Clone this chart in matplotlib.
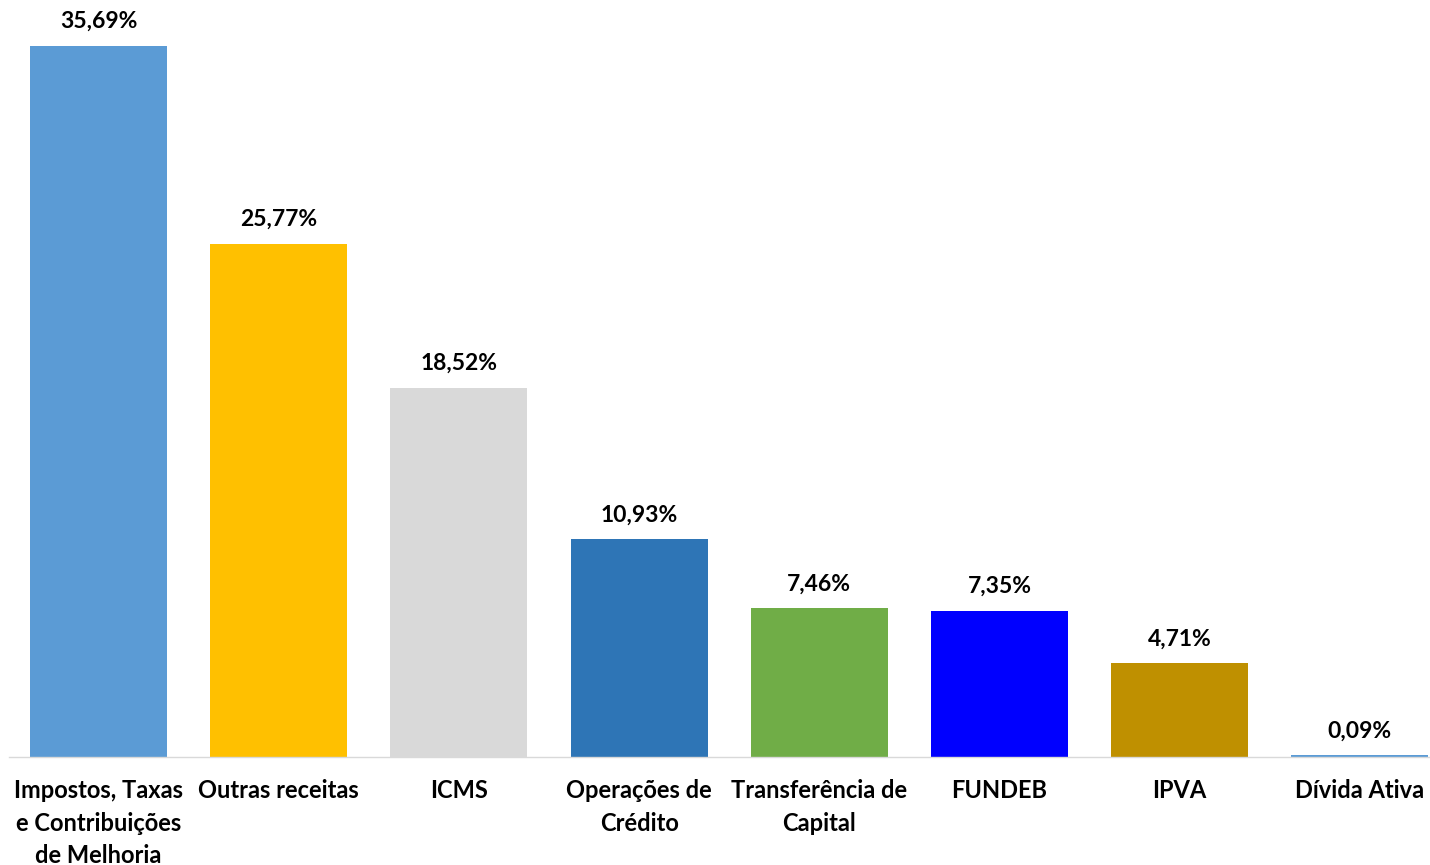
import matplotlib
matplotlib.use("Agg")
import matplotlib.pyplot as plt

categories = ["Impostos, Taxas\ne Contribuições\nde Melhoria", "Outras receitas", "ICMS",
              "Operações de\nCrédito", "Transferência de\nCapital", "FUNDEB", "IPVA", "Dívida Ativa"]
values = [35.69, 25.77, 18.52, 10.93, 7.46, 7.35, 4.71, 0.09]
labels = ["35,69%", "25,77%", "18,52%", "10,93%", "7,46%", "7,35%", "4,71%", "0,09%"]
colors = ["#5B9BD5", "#FFC000", "#D9D9D9", "#2E75B6", "#70AD47", "#0000FF", "#BF9000", "#5B9BD5"]

plt.rcParams['font.family'] = ['Lato', 'DejaVu Sans']

fig = plt.figure(figsize=(14.3, 8.65), dpi=100)
ax = fig.add_axes([8.5/1430, (865-757)/865, 1 - 8.5/1430, 757/865])
x = list(range(len(categories)))
bars = ax.bar(x, values, width=0.76, color=colors, zorder=2)
ax.set_xlim(-0.5, 7.39)
ax.set_ylim(0, 38.0)

for xi, v, lab in zip(x, values, labels):
    ax.annotate(lab, (xi, v), xytext=(0, 10), textcoords="offset points",
                ha="center", va="bottom", fontsize=16.5, fontweight="bold", color="#000000")

for s in ["top", "right", "left"]:
    ax.spines[s].set_visible(False)
ax.spines["bottom"].set_color("#D9D9D9")
ax.spines["bottom"].set_linewidth(1.0)
ax.set_yticks([])
ax.set_xticks(x)
ax.set_xticklabels(categories, fontsize=17, fontweight="bold", linespacing=1.5, color="#000000")
ax.tick_params(axis="x", length=0, pad=16)

fig.savefig("out.png", dpi=100)
